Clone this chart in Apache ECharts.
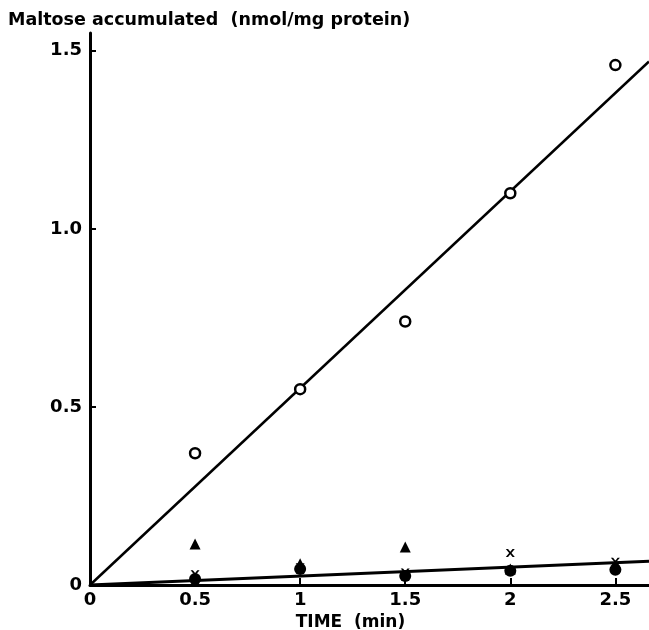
<!DOCTYPE html>
<html>
<head>
<meta charset="utf-8">
<script src="https://cdn.jsdelivr.net/npm/echarts@6/dist/echarts.min.js"></script>
<style>
  html, body { margin: 0; padding: 0; background: #fff; }
  #chart { width: 649px; height: 630px; }
</style>
</head>
<body>
<div id="chart"></div>
<script>
// time points (min)
const times = [0.5, 1, 1.5, 2, 2.5];
// maltose accumulated (nmol/mg protein)
const openCircles = [0.37, 0.55, 0.74, 1.10, 1.46];
const triangles = [0.115, 0.06, 0.107, 0.045, 0.055];
const crosses = [0.03, 0.05, 0.035, 0.09, 0.065];
const filledCircles = [0.017, 0.045, 0.025, 0.04, 0.043];
// fitted lines (start / end points)
const upperFit = [[0, 0], [2.66, 1.47]];
const lowerFit = [[0, 0], [2.66, 0.067]];
const xTicks = ['0', '0.5', '1', '1.5', '2', '2.5'];
const yTicks = ['0', '0.5', '1.0', '1.5'];

const font = 'DejaVu Sans';
const pair = arr => times.map((t, i) => [t, arr[i]]);
const crossPath = 'path://M0,0 L2.5,0 L5,2.8 L7.5,0 L10,0 L6.3,4 L10,8 L7.5,8 L5,5.2 L2.5,8 L0,8 L3.7,4 Z';

const chart = echarts.init(document.getElementById('chart'));

const pickLabel = (labels) => v => {
  const i = Math.round(v / 0.5);
  return Math.abs(v - i * 0.5) < 1e-6 && labels[i] !== undefined ? labels[i] : '';
};

const option = {
  animation: false,
  backgroundColor: '#fff',
  grid: { left: 90, right: 0, top: 33, bottom: 45, containLabel: false, outerBoundsMode: 'none' },
  title: {
    text: 'Maltose accumulated  (nmol/mg protein)',
    left: 3,
    top: 6,
    textStyle: { fontFamily: font, fontWeight: 'bold', fontSize: 17.5, color: '#000' }
  },
  xAxis: {
    type: 'value',
    min: 0,
    max: 2.66,
    interval: 0.5,
    name: 'TIME  (min)',
    nameLocation: 'middle',
    nameGap: 24,
    nameTextStyle: {
      fontFamily: font, fontWeight: 'bold', fontSize: 17, color: '#000',
      padding: [0, 38, 0, 0]
    },
    axisLine: { lineStyle: { color: '#000', width: 3 } },
    axisTick: { inside: true, length: 7, lineStyle: { color: '#000', width: 2 } },
    axisLabel: {
      fontFamily: font, fontWeight: 'bold', fontSize: 18, color: '#000', margin: 6,
      showMaxLabel: false,
      formatter: pickLabel(xTicks)
    },
    splitLine: { show: false }
  },
  yAxis: {
    type: 'value',
    min: 0,
    max: 1.55,
    interval: 0.5,
    axisLine: { show: true, lineStyle: { color: '#000', width: 3 } },
    axisTick: { show: true, inside: true, length: 6, lineStyle: { color: '#000', width: 2 } },
    axisLabel: {
      fontFamily: font, fontWeight: 'bold', fontSize: 18, color: '#000', margin: 8,
      showMaxLabel: false,
      formatter: pickLabel(yTicks)
    },
    splitLine: { show: false }
  },
  series: [
    {
      type: 'line', data: upperFit, symbol: 'none',
      lineStyle: { color: '#000', width: 2.5 }, z: 2
    },
    {
      type: 'line', data: lowerFit, symbol: 'none',
      lineStyle: { color: '#000', width: 3 }, z: 2
    },
    {
      type: 'scatter', data: pair(openCircles), symbol: 'circle', symbolSize: 10,
      itemStyle: { color: '#fff', borderColor: '#000', borderWidth: 2.5, opacity: 1 }, z: 3
    },
    {
      type: 'scatter', data: pair(triangles), symbol: 'triangle', symbolSize: 11,
      itemStyle: { color: '#000', opacity: 1 }, z: 3
    },
    {
      type: 'scatter', data: pair(crosses), symbol: crossPath, symbolSize: [9, 8],
      itemStyle: { color: '#000', opacity: 1 }, z: 3
    },
    {
      type: 'scatter', data: pair(filledCircles), symbol: 'circle', symbolSize: 12,
      itemStyle: { color: '#000', opacity: 1 }, z: 3
    }
  ]
};

chart.setOption(option);
</script>
</body>
</html>
